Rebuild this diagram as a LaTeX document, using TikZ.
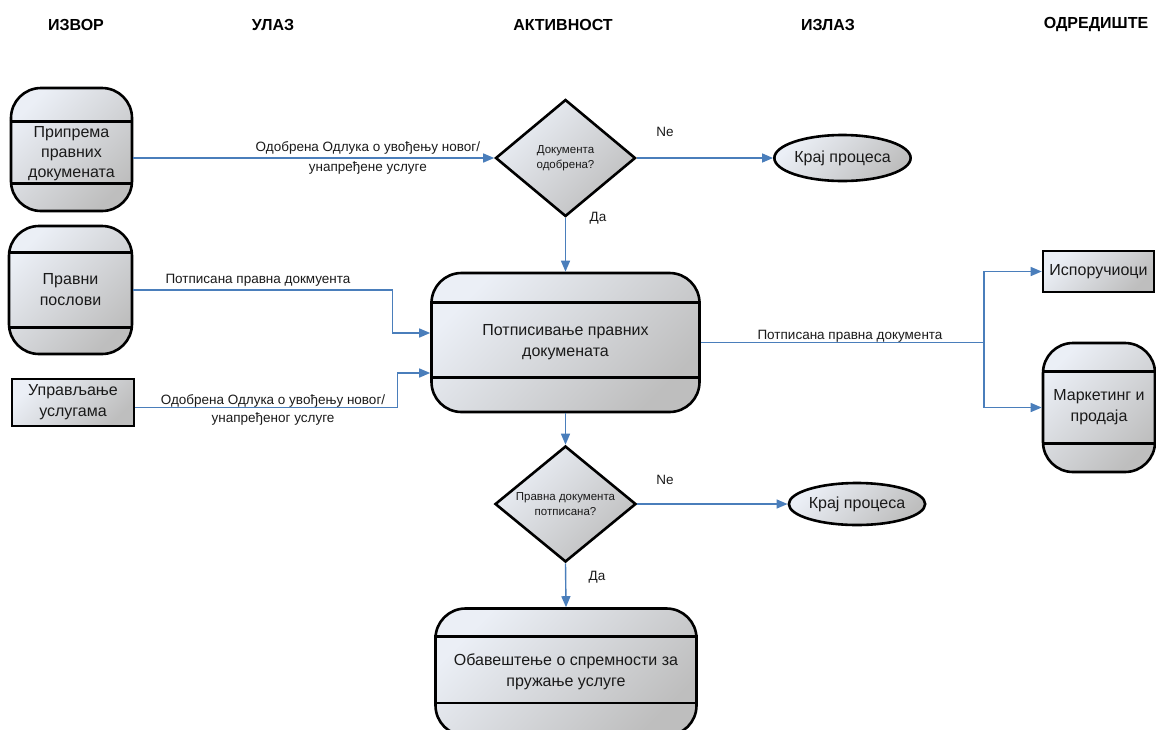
\documentclass[tikz,border=0pt]{standalone}
\usepackage{fontspec}
\setmainfont{Liberation Sans}
\usetikzlibrary{shapes.geometric,arrows.meta,calc}
\definecolor{flowblue}{HTML}{4A7EBB}
\definecolor{shadeLight}{HTML}{EBEFF6}
\definecolor{shadeDark}{HTML}{BEBEBE}
\definecolor{ink}{HTML}{1A1A1A}

% horizontal band lines inside a lane box, #2 below the top, #3 above the bottom
\newcommand\lanebands[3]{%
  \draw[bandline] ($(#1.north west)+(0,#2)$) -- ($(#1.north east)+(0,#2)$);
  \draw[bandline] ($(#1.south west)+(0,-#3)$) -- ($(#1.south east)+(0,-#3)$);}

\begin{document}
\begin{tikzpicture}[x=1pt,y=-1pt,
  every node/.style={text=ink, inner sep=0pt},
  hdr/.style={font=\fontsize{16}{19}\selectfont\bfseries, text=black},
  filled/.style={draw=black, line width=2.6pt, top color=shadeLight, bottom color=shadeDark, shading angle=45},
  lane/.style={filled, rectangle, rounded corners=30pt, align=center, font=\fontsize{16}{21}\selectfont},
  plainbox/.style={filled, rectangle, align=center, font=\fontsize{16}{21}\selectfont},
  decision/.style={filled, diamond, aspect=1.2, align=center, font=\fontsize{11.5}{15}\selectfont},
  terminal/.style={filled, ellipse, font=\fontsize{16}{20}\selectfont},
  flow/.style={draw=flowblue, line width=1.4pt},
  flowarrow/.style={flow, -{Triangle[length=11pt,width=9pt]}},
  edgetext/.style={font=\fontsize{13.5}{20}\selectfont, align=center},
  bandline/.style={draw=black, line width=2.6pt},
]
\useasboundingbox (0,0) rectangle (1156,729);
\clip (0,0) rectangle (1156,729);

% column headings
\node[hdr] (hSource) at (76,25) {ИЗВОР};
\node[hdr] (hInput)  at (273,25) {УЛАЗ};
\node[hdr] (hAct)    at (563,25) {АКТИВНОСТ};
\node[hdr] (hOutput) at (828,25) {ИЗЛАЗ};
\node[hdr] (hDest)   at (1096,25) {ОДРЕДИШТЕ};

% sources
\node[lane, minimum width=121pt, minimum height=123pt, font=\fontsize{16}{20}\selectfont,
      text height=60pt, text depth=4pt] (prep) at (71.5,149.5) {Припрема\\правних\\докумената};
\node[lane, minimum width=123pt, minimum height=128pt] (legal) at (70.5,290) {Правни\\послови};
\node[plainbox, minimum width=122pt, minimum height=47pt] (svc) at (73,402.5) {Управљање\\услугама};

% activity column
\node[decision, minimum width=140pt, minimum height=117pt] (okDocs) at (565.5,158) {Документа\\одобрена?};
\node[terminal, minimum width=129pt, minimum height=46pt] (end1) at (842.5,158) {Крај процеса};
\node[lane, minimum width=268pt, minimum height=139pt] (sign) at (565.5,342.5) {Потписивање правних\\докумената};
\node[decision, minimum width=141pt, minimum height=116pt] (signed) at (565.5,504) {Правна документа\\потписана?};
\node[terminal, minimum width=128pt, minimum height=42pt] (end2) at (857,504) {Крај процеса};
\node[lane, minimum width=261pt, minimum height=127pt] (notice) at (566,672) {Обавештење о спремности за\\пружање услуге};

% destinations
\node[plainbox, minimum width=111pt, minimum height=41pt] (supp) at (1098.5,271.5) {Испоручиоци};
\node[lane, minimum width=112pt, minimum height=129pt] (mkt) at (1099,407.5) {Маркетинг и\\продаја};

\lanebands{prep}{35}{29}
\lanebands{legal}{28}{28}
\lanebands{sign}{31}{36}
\lanebands{notice}{29}{34}
\lanebands{mkt}{30}{30}

% connectors
\draw[flowarrow] (prep.east |- okDocs.west) -- (okDocs.west)
  node[edgetext, pos=0.65] (lblIn1) {Одобрена Одлука о увођењу новог/\\унапређене услуге};
\draw[flowarrow] (okDocs.east) -- (end1.west);
\node[edgetext] (ne1) at (665,132) {Ne};
\draw[flowarrow] (okDocs.south) -- (sign.north);
\node[edgetext] (da1) at (598,218) {Да};

\draw[flowarrow] (legal.east) -| ($(sign.west)+(-38,-9.5)$) -- ($(sign.west)+(0,-9.5)$);
\node[edgetext, anchor=base] (lblIn2) at (258,283) {Потписана правна докмуента};

\draw[flowarrow] ($(svc.east)+(0,5)$) -| ($(sign.west)+(-33,30.5)$) -- ($(sign.west)+(0,30.5)$);
\node[edgetext, font=\fontsize{13.5}{18}\selectfont] (lblIn3) at (273,410) {Одобрена Одлука о увођењу новог/\\унапређеног услуге};

\coordinate (split) at (984,342.5);
\draw[flow] (sign.east) -- (split);
\draw[flowarrow] (split) |- (supp.west);
\draw[flowarrow] (split) |- (mkt.west);
\node[edgetext, anchor=base] (lblOut) at (850,339) {Потписана правна документа};

\draw[flowarrow] (sign.south) -- (signed.north);
\draw[flowarrow] (signed.east) -- (end2.west);
\node[edgetext] (ne2) at (665,480) {Ne};
\draw[flowarrow] (signed.south) -- (notice.north);
\node[edgetext] (da2) at (597,577) {Да};
\end{tikzpicture}
\end{document}
